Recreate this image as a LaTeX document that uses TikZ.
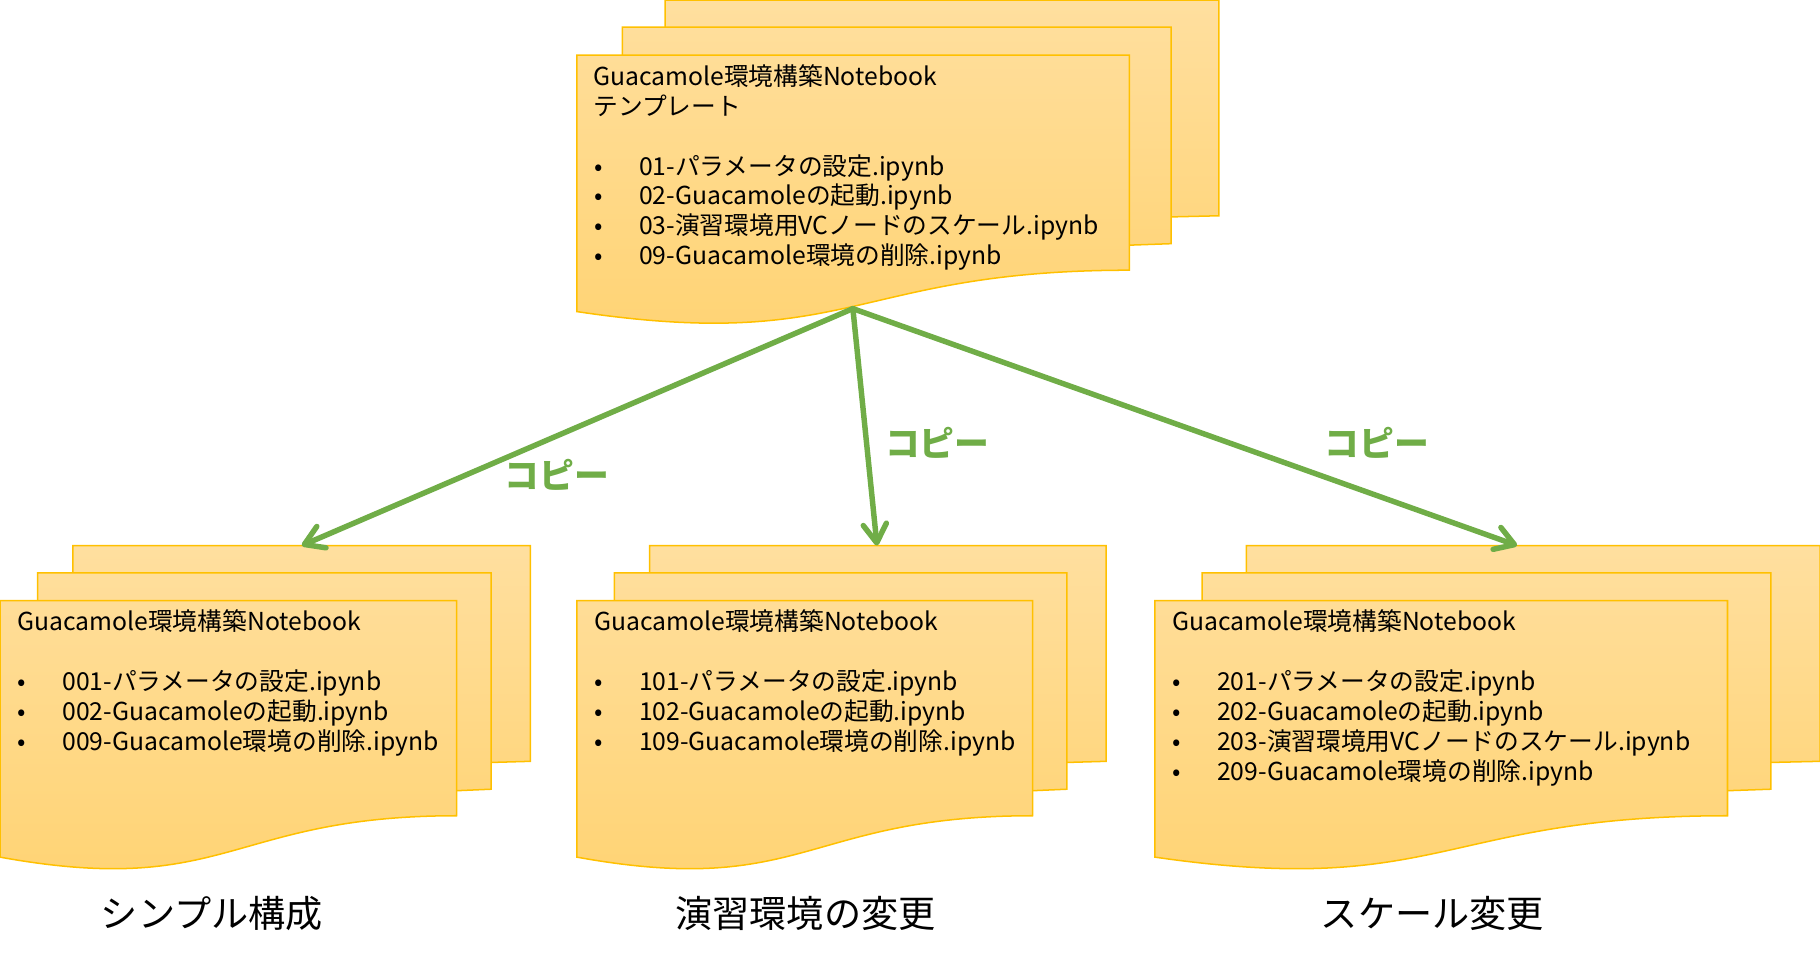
\documentclass[tikz,border=0pt]{standalone}
\usepackage{fontspec}
\setmainfont{Noto Sans CJK JP}
\usetikzlibrary{arrows.meta}
\definecolor{gtop}{HTML}{FFDF9F}
\definecolor{gbot}{HTML}{FFD372}
\definecolor{goldline}{HTML}{FFC000}
\definecolor{cgreen}{HTML}{70AD47}
\tikzset{
  docsheet/.style={draw=goldline,line width=1.3pt},
  txt/.style={anchor=base west,inner sep=0pt,font=\fontsize{21.3}{26}\selectfont},
  lbl/.style={anchor=base,inner sep=0pt,font=\fontsize{32}{32}\selectfont},
  cpy/.style={anchor=base,inner sep=0pt,text=cgreen,font=\fontsize{30}{30}\selectfont\bfseries},
  arr/.style={draw=cgreen,line width=4.7pt,line cap=round,
    -{Straight Barb[length=16pt,width=20pt,line cap=round,line join=round]}}
}
\newcommand{\docstack}[6]{%
\begin{scope}[shift={(#2,#3)},x={(#4pt,0pt)},y={(0pt,-#5pt)}]
\path[docsheet,top color=gtop,bottom color=gbot!67!gtop] (0.13759,0) -- (1,0) -- (1,0.66630) -- (0.92593,0.66977) -- (0.13759,0.66977) -- cycle;
\path[docsheet,top color=gbot!8!gtop,bottom color=gbot!76!gtop] (0.07093,0.08403) -- (0.92593,0.08403) -- (0.92593,0.75241) -- (0.86088,0.75704) -- (0.07093,0.75704) -- cycle;
\path[docsheet,top color=gbot!17!gtop,bottom color=gbot] (0,0.17014) -- (0.86088,0.17014) -- (0.86088,0.83435) .. controls (0.43046,0.83435) and (0.43046,1.08991) .. (0,0.96213) -- cycle;
\coordinate (#1-top) at (#6,0);
\coordinate (#1-bot) at (0.43,0.953);
\end{scope}}
\newcommand{\itm}[4]{%
\node[txt] (#1b) at ({#2+15},#3) {•};
\node[txt] (#1) at ({#2+53.5},#3) {#4};}
\begin{document}
\begin{tikzpicture}[x=1pt,y=-1pt]
\useasboundingbox (0,0) rectangle (1568,827.9);
% stacks
\docstack{T}{497}{0}{553}{279}{0.5}
\docstack{L}{0}{470}{457}{279}{0.569}
\docstack{M}{497}{470}{456}{279}{0.567}
\docstack{R}{995}{470}{573}{279}{0.5445}
% top texts
\node[txt] (tT1) at (511,74) {Guacamole環境構築Notebook};
\node[txt] (tT2) at (511,99.5) {テンプレート};
\itm{iT1}{497}{151}{01-パラメータの設定.ipynb}
\itm{iT2}{497}{176.5}{02-Guacamoleの起動.ipynb}
\itm{iT3}{497}{202}{03-演習環境用VCノードのスケール.ipynb}
\itm{iT4}{497}{227.5}{09-Guacamole環境の削除.ipynb}
% left
\node[txt] (tL1) at (14.8,543.5) {Guacamole環境構築Notebook};
\itm{iL1}{0}{594.5}{001-パラメータの設定.ipynb}
\itm{iL2}{0}{620.3}{002-Guacamoleの起動.ipynb}
\itm{iL3}{0}{646.2}{009-Guacamole環境の削除.ipynb}
% middle
\node[txt] (tM1) at (511.8,543.5) {Guacamole環境構築Notebook};
\itm{iM1}{497}{594.5}{101-パラメータの設定.ipynb}
\itm{iM2}{497}{620.3}{102-Guacamoleの起動.ipynb}
\itm{iM3}{497}{646.2}{109-Guacamole環境の削除.ipynb}
% right
\node[txt] (tR1) at (1009.8,543.5) {Guacamole環境構築Notebook};
\itm{iR1}{995}{594.5}{201-パラメータの設定.ipynb}
\itm{iR2}{995}{620.3}{202-Guacamoleの起動.ipynb}
\itm{iR3}{995}{646.2}{203-演習環境用VCノードのスケール.ipynb}
\itm{iR4}{995}{672}{209-Guacamole環境の削除.ipynb}
% arrows
\draw[arr] (T-bot) -- (L-top);
\draw[arr] (T-bot) -- (M-top);
\draw[arr] (T-bot) -- (R-top);
\node[cpy] (cL) at (480,421) {コピー};
\node[cpy] (cM) at (807.5,393) {コピー};
\node[cpy] (cR) at (1186,393) {コピー};
% captions
\node[lbl] (labL) at (182.5,799) {シンプル構成};
\node[lbl] (labM) at (694,799) {演習環境の変更};
\node[lbl] (labR) at (1234,799) {スケール変更};
\end{tikzpicture}
\end{document}
